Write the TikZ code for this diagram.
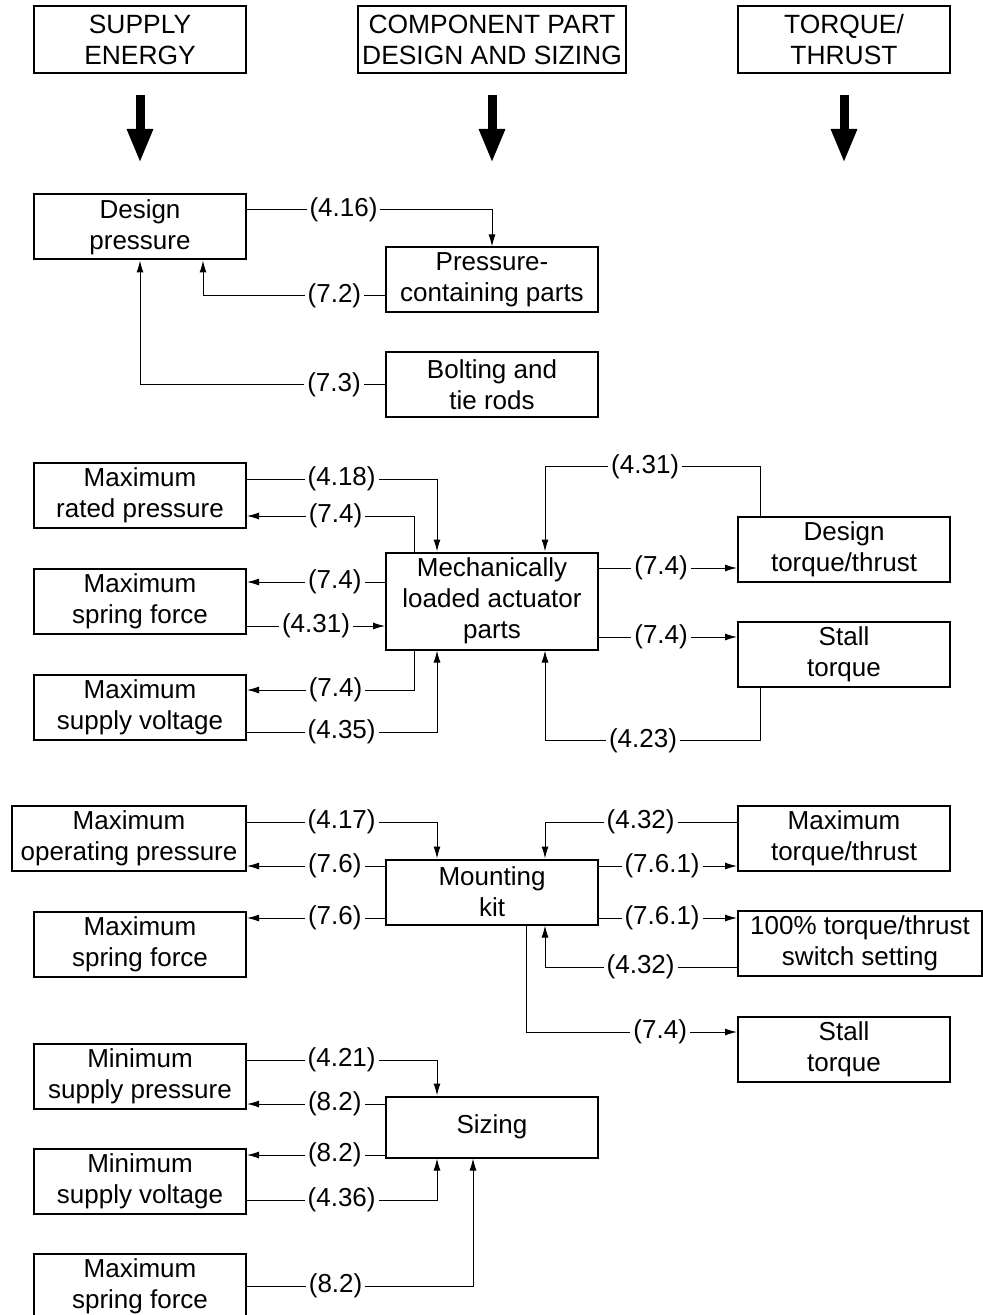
\documentclass[tikz,border=0pt]{standalone}
\usepackage{fontspec}
\setmainfont{Liberation Sans}
\usepackage{tikz}
\usetikzlibrary{arrows.meta,positioning}

\begin{document}
\begin{tikzpicture}[
    x=0.5pt, y=-0.5pt,
    node distance=176pt,
    >={Latex[length=6pt,width=3.5pt]},
    font=\fontsize{13}{15.5}\selectfont,
    box/.style={
		rectangle,
		draw=black,
		line width=1pt,
		align=center,
		inner sep=0pt,
%		text width=5cm,
		minimum height=32.5pt,
		minimum width=106pt,
		fill=white
	},
	head/.style={
		box,
		minimum height=33.5pt,
		font=\fontsize{13.2}{15.5}\selectfont
	},
	conn/.style={
		draw,
		line width=0.5pt
	},
	big/.style={
		line width=4.5pt,
		-{Triangle[length=17pt,width=12pt]}
	},
	ref/.style={
		fill=white,
		inner xsep=1.5pt,
		inner ysep=1pt
	}
  ]
\useasboundingbox (0,0) rectangle (982,1315);

% // The headings
 \node [head] (supply) at (140,40) {SUPPLY\\ENERGY};
 \node [head, right of=supply, minimum width=134pt] (comp) {COMPONENT PART\\DESIGN AND SIZING};
 \node [head, right of=comp] (torque) {TORQUE/\\THRUST};

 \coordinate (supplytip) at ([yshift=-61.5pt]supply.center);
 \coordinate (comptip) at ([yshift=-61.5pt]comp.center);
 \coordinate (torquetip) at ([yshift=-61.5pt]torque.center);
 \draw [big] ([yshift=-10.5pt]supply.south) -- (supplytip);
 \draw [big] ([yshift=-10.5pt]comp.south) -- (comptip);
 \draw [big] ([yshift=-10.5pt]torque.south) -- (torquetip);

% // Design pressure
 \node [box] (dpress) at (140,227) {Design\\pressure};
 \node [box, right of=dpress, yshift=-26.5pt] (pcp) {Pressure-\\containing parts};
 \node [box, right of=dpress, yshift=-79pt] (bolt) {Bolting and\\tie rods};

 \draw [conn, ->] ([yshift=8.5pt]dpress.east) -| node [ref, pos=0.197] {(4.16)} (pcp.north);
 \draw [conn, ->] ([yshift=-8pt]pcp.west) -| node [ref, pos=0.139] {(7.2)} ([xshift=31.5pt]dpress.south);
 \draw [conn, ->] (bolt.west) -| node [ref, pos=0.104] {(7.3)} (dpress.south);

% // Mechanically loaded parts
 \node [box] (maxrated) at (140,495) {Maximum\\rated pressure};
 \node [box] (maxspring) at (140,601) {Maximum\\spring force};
 \node [box] (maxvolt) at (140,707) {Maximum\\supply voltage};
 \node [box, right of=maxspring, minimum height=48.5pt] (mech) {Mechanically\\loaded actuator\\parts};
 \node [box, right of=mech, yshift=26pt] (designtq) {Design\\torque/thrust};
 \node [box, right of=mech, yshift=-26.5pt] (stall) {Stall\\torque};

 \draw [conn, ->] ([yshift=8pt]maxrated.east) -| node [ref, pos=0.249] {(4.18)} ([xshift=-27.5pt]mech.north);
 \draw [conn, ->] ([xshift=-39pt]mech.north) |- node [ref, pos=0.735] {(7.4)} ([yshift=-10.5pt]maxrated.east);
 \draw [conn, ->] ([yshift=9.5pt]mech.west) -- node [ref, pos=0.364] {(7.4)} ([yshift=9.5pt]maxspring.east);
 \draw [conn, ->] ([yshift=-12.5pt]maxspring.east) -- node [ref, pos=0.5] {(4.31)} ([yshift=-12.5pt]mech.west);
 \draw [conn, ->] ([xshift=-39pt]mech.south) |- node [ref, pos=0.735] {(7.4)} ([yshift=8.5pt]maxvolt.east);
 \draw [conn, ->] ([yshift=-12.5pt]maxvolt.east) -| node [ref, pos=0.249] {(4.35)} ([xshift=-27.5pt]mech.south);

 \draw [conn, ->] ([xshift=-42pt]designtq.north) -- ++(0,-49) -| node [ref, pos=0.267] {(4.31)} ([xshift=26.5pt]mech.north);
 \draw [conn, ->] ([yshift=16.5pt]mech.east) -- node [ref, pos=0.45] {(7.4)} ([yshift=-9.5pt]designtq.west);
 \draw [conn, ->] ([yshift=-18pt]mech.east) -- node [ref, pos=0.45] {(7.4)} ([yshift=8.5pt]stall.west);
 \draw [conn, ->] ([xshift=-42pt]stall.south) -- ++(0,53) -| node [ref, pos=0.272] {(4.23)} ([xshift=26.5pt]mech.south);

% // Mounting kit
 \node [box, minimum width=117pt] (maxop) at (129,838) {Maximum\\operating pressure};
 \node [box] (maxspring2) at (140,944) {Maximum\\spring force};
 \node [box, right of=maxspring2, yshift=26pt] (mount) {Mounting\\kit};
 \node [box, right of=mount, yshift=27pt] (maxtq) {Maximum\\torque/thrust};
 \node [box, right of=mount, xshift=8pt, yshift=-25.5pt, minimum width=122pt] (switch) {100\% torque/thrust\\switch setting};
 \node [box, right of=mount, yshift=-78.5pt] (stall2) {Stall\\torque};

 \draw [conn, ->] ([yshift=8pt]maxop.east) -| node [ref, pos=0.249] {(4.17)} ([xshift=-27.5pt]mount.north);
 \draw [conn, ->] ([yshift=13pt]mount.west) -- node [ref, pos=0.364] {(7.6)} ([yshift=-14pt]maxop.east);
 \draw [conn, ->] ([yshift=-13pt]mount.west) -- node [ref, pos=0.364] {(7.6)} ([yshift=13pt]maxspring2.east);
 \draw [conn, ->] ([yshift=8pt]maxtq.west) -| node [ref, pos=0.251] {(4.32)} ([xshift=26.5pt]mount.north);
 \draw [conn, ->] ([yshift=13pt]mount.east) -- node [ref, pos=0.457] {(7.6.1)} ([yshift=-14pt]maxtq.west);
 \draw [conn, ->] ([yshift=-13pt]mount.east) -- node [ref, pos=0.457] {(7.6.1)} ([yshift=12.5pt]switch.west);
 \draw [conn, ->] ([yshift=-12pt]switch.west) -| node [ref, pos=0.251] {(4.32)} ([xshift=26.5pt]mount.south);
 \draw [conn, ->] ([xshift=17pt]mount.south) |- node [ref, pos=0.818] {(7.4)} ([yshift=8.5pt]stall2.west);

% // Sizing
 \node [box] (minpress) at (140,1076) {Minimum\\supply pressure};
 \node [box] (minvolt) at (140,1181) {Minimum\\supply voltage};
 \node [box] (maxspring3) at (140,1286) {Maximum\\spring force};
 \node [box, right of=minpress, yshift=-25.5pt, minimum height=30.5pt] (sizing) {Sizing};

 \draw [conn, ->] ([yshift=8pt]minpress.east) -| node [ref, pos=0.249] {(4.21)} ([xshift=-27.5pt]sizing.north);
 \draw [conn, ->] ([yshift=11.5pt]sizing.west) -- node [ref, pos=0.364] {(8.2)} ([yshift=-14pt]minpress.east);
 \draw [conn, ->] ([yshift=-14pt]sizing.west) -- node [ref, pos=0.364] {(8.2)} ([yshift=13pt]minvolt.east);
 \draw [conn, ->] ([yshift=-9.5pt]minvolt.east) -| node [ref, pos=0.249] {(4.36)} ([xshift=-27.5pt]sizing.south);
 \draw [conn, ->] (maxspring3.east) -| node [ref, pos=0.196] {(8.2)} ([xshift=-9.5pt]sizing.south);

\end{tikzpicture}
\end{document}
